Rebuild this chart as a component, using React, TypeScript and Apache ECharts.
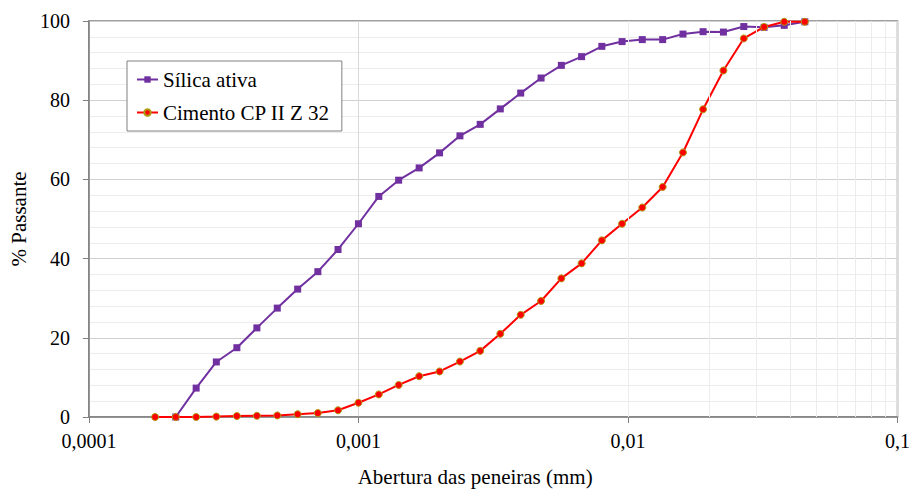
import React, { useEffect, useRef } from "react";
import * as echarts from "echarts";

// Abertura das peneiras (mm)
const sizes = [
  0.000176, 0.00021, 0.00025, 0.000297, 0.000354, 0.00042, 0.0005, 0.000595,
  0.000707, 0.00084, 0.001, 0.00119, 0.00141, 0.00168, 0.002, 0.00238,
  0.00283, 0.00336, 0.004, 0.00476, 0.00566, 0.00673, 0.008, 0.00951,
  0.0113, 0.01345, 0.016, 0.019, 0.0226, 0.0269, 0.032, 0.038, 0.0453,
];

// % Passante — Sílica ativa (no value at the first size)
const silica = [
  null, 0, 7.3, 13.9, 17.5, 22.5, 27.5, 32.3,
  36.7, 42.3, 48.8, 55.7, 59.8, 62.9, 66.7, 71.0,
  73.9, 77.8, 81.8, 85.6, 88.8, 91.0, 93.6, 94.8,
  95.3, 95.3, 96.7, 97.3, 97.2, 98.6, 98.4, 98.9, 99.8,
];

// % Passante — Cimento CP II Z 32
const cimento = [
  0, 0, 0, 0.1, 0.25, 0.3, 0.4, 0.7,
  1.0, 1.7, 3.6, 5.7, 8.1, 10.3, 11.5, 14.0,
  16.7, 21.0, 25.8, 29.3, 35.0, 38.8, 44.6, 48.8,
  52.9, 58.1, 66.8, 77.7, 87.5, 95.6, 98.5, 99.8, 99.8,
];

const seriesNames = ["Sílica ativa", "Cimento CP II Z 32"];
const xTickLabels = ["0,0001", "0,001", "0,01", "0,1"];
const minorGridX = [
  0.0002, 0.0003, 0.0004, 0.0005, 0.0006, 0.0007, 0.0008, 0.0009,
  0.002, 0.003, 0.004, 0.005, 0.006, 0.007, 0.008, 0.009,
  0.02, 0.03, 0.04, 0.05, 0.06, 0.07, 0.08, 0.09,
];

const FONT = "'Liberation Serif', 'Times New Roman', serif";

export default function App() {
  const ref = useRef<HTMLDivElement>(null);
  useEffect(() => {
    document.body.style.margin = "0";
    if (!ref.current) return;
    const chart = echarts.init(ref.current, null, { renderer: "svg" });
    const pairs = (vals: (number | null)[]) =>
      sizes
        .map((s, i) => (vals[i] === null ? null : [s, vals[i]]))
        .filter((p) => p !== null);

    chart.setOption({
      animation: false,
      backgroundColor: "#ffffff",
      grid: {
        left: 87,
        right: 14,
        top: 21,
        bottom: 69,
        show: true,
        borderColor: "#808080",
        borderWidth: 1.5,
      },
      legend: {
        data: seriesNames,
        orient: "vertical",
        left: 127,
        top: 61,
        backgroundColor: "#ffffff",
        borderColor: "#808080",
        borderWidth: 1,
        borderRadius: 0,
        padding: [8, 12, 8, 9],
        itemGap: 12,
        itemWidth: 21,
        itemHeight: 8,
        textStyle: { fontFamily: FONT, fontSize: 21, color: "#000" },
      },
      xAxis: {
        type: "log",
        logBase: 10,
        min: 0.0001,
        max: 0.1,
        name: "Abertura das peneiras (mm)",
        nameLocation: "middle",
        nameGap: 49,
        nameTextStyle: {
          fontFamily: FONT,
          fontSize: 21,
          color: "#000",
          padding: [0, 36, 0, 0],
        },
        axisLine: { show: true, lineStyle: { color: "#808080", width: 1.5 } },
        axisTick: { show: true, inside: false, length: 6, lineStyle: { color: "#808080" } },
        axisLabel: {
          margin: 14,
          fontFamily: FONT,
          fontSize: 20,
          color: "#000",
          formatter: (v: number) => {
            const idx = Math.round(Math.log10(v)) + 4;
            return xTickLabels[idx] ?? "";
          },
        },
        splitLine: { show: true, lineStyle: { color: "#d9d9d9", width: 1 } },
      },
      yAxis: {
        type: "value",
        min: 0,
        max: 100,
        interval: 20,
        name: "% Passante",
        nameLocation: "middle",
        nameGap: 57,
        nameTextStyle: { fontFamily: FONT, fontSize: 21, color: "#000" },
        axisLine: { show: true, lineStyle: { color: "#808080", width: 1.5 } },
        axisTick: { show: true, inside: false, length: 6, lineStyle: { color: "#808080" } },
        axisLabel: { margin: 19, fontFamily: FONT, fontSize: 20, color: "#000" },
        splitLine: { show: true, lineStyle: { color: "#d0d0d0", width: 1 } },
        minorTick: { show: false, splitNumber: 5 },
        minorSplitLine: { show: true, lineStyle: { color: "#ececec", width: 1 } },
      },
      series: [
        {
          name: "_grid",
          type: "line",
          data: [],
          silent: true,
          z: 1,
          markLine: {
            silent: true,
            symbol: "none",
            label: { show: false },
            lineStyle: { color: "#ececec", type: "solid", width: 1 },
            data: minorGridX.map((v) => ({ xAxis: v })),
          },
        },
        {
          name: seriesNames[0],
          type: "line",
          data: pairs(silica),
          symbol: "rect",
          symbolSize: 7,
          z: 3,
          lineStyle: { color: "#7030A0", width: 2 },
          itemStyle: { color: "#7030A0", borderColor: "#7030A0", borderWidth: 0 },
        },
        {
          name: seriesNames[1],
          type: "line",
          data: pairs(cimento),
          symbol: "circle",
          symbolSize: 7,
          z: 4,
          lineStyle: { color: "#FF0000", width: 2 },
          itemStyle: { color: "#FF0000", borderColor: "#B09A10", borderWidth: 1 },
        },
      ],
    });
    return () => chart.dispose();
  }, []);

  return <div ref={ref} style={{ width: 913, height: 492 }} />;
}
